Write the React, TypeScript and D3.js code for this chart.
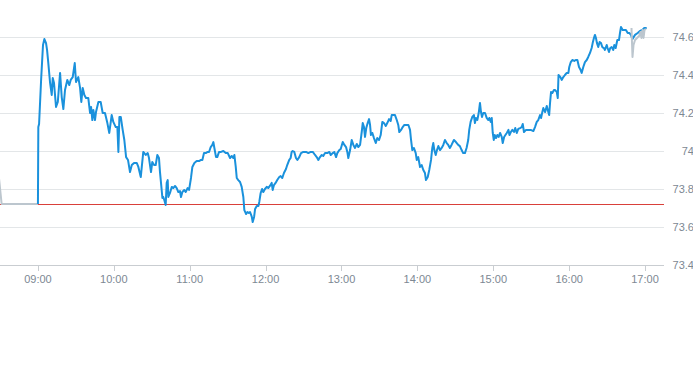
import React from "react";
import * as d3 from "d3";

// minutes after 09:00 and price, main session
const sessionMinutes = [
  0, 0.3, 0.9, 2.5, 4.0, 5.1, 6.4, 7.2, 8.2, 9.6, 10.9, 11.7, 12.7, 14.3, 15.7, 17.5, 18.8, 20.1, 21.4, 23.2,
  24.8, 25.9, 27.5, 29.1, 30.1, 31.9, 33.3, 34.3, 35.4, 36.7, 38.0, 39.8, 41.2, 42.0, 43.0, 43.8, 45.1, 45.9, 47.8, 49.6,
  51.2, 53.0, 54.9, 56.4, 58.3, 59.6, 61.5, 62.8, 63.6, 64.4, 65.5, 67.0, 68.3, 69.7, 71.2, 72.8, 74.2, 76.0, 78.1, 79.4,
  81.3, 82.1, 83.3, 85.2, 86.8, 87.8, 89.4, 90.4, 91.8, 93.1, 94.4, 95.7, 96.5, 97.3, 98.4, 99.1, 99.9, 101.0, 101.8, 102.6,
  103.1, 104.4, 105.8, 107.0, 108.4, 109.7, 111.0, 112.3, 113.1, 114.2, 115.7, 116.8, 118.4, 119.5, 121.0, 122.1, 123.7, 125.5, 127.4, 128.9,
  130.0, 131.3, 132.7, 134.2, 135.3, 136.6, 137.9, 138.7, 139.5, 140.8, 141.8, 143.2, 144.8, 146.6, 148.5, 150.1, 151.9, 153.2, 154.5, 155.3,
  156.4, 157.2, 158.4, 159.8, 161.1, 162.4, 163.2, 164.6, 165.6, 166.7, 167.7, 169.1, 169.8, 170.9, 171.7, 173.0, 174.3, 175.0, 176.1, 177.2,
  178.2, 179.5, 180.9, 182.1, 183.4, 184.8, 185.6, 186.6, 187.9, 189.2, 190.8, 191.9, 193.2, 194.5, 196.1, 197.1, 198.7, 199.8, 200.6, 201.4,
  202.7, 204.0, 205.1, 206.6, 208.0, 209.8, 212.0, 213.8, 215.7, 217.3, 219.1, 220.4, 221.7, 223.0, 224.4, 225.6, 227.0, 228.8, 230.4, 231.5,
  233.1, 234.3, 235.7, 236.7, 238.3, 239.4, 241.0, 242.3, 243.6, 244.6, 245.4, 246.8, 248.1, 249.4, 250.7, 252.1, 253.3, 254.7, 256.0, 256.8,
  257.8, 258.6, 259.6, 260.7, 261.8, 262.6, 263.3, 264.4, 265.7, 267.1, 268.3, 269.7, 271.0, 272.3, 273.6, 275.0, 276.2, 277.6, 278.9, 279.7,
  281.0, 282.3, 283.7, 284.9, 285.7, 287.1, 288.4, 289.7, 291.6, 292.9, 294.2, 295.0, 296.0, 297.3, 298.7, 299.5, 300.7, 302.1, 303.4, 304.7,
  306.0, 306.8, 308.2, 309.4, 310.8, 311.8, 312.6, 313.4, 314.5, 315.5, 316.6, 317.9, 319.2, 320.5, 321.8, 323.2, 324.4, 325.7, 327.0, 328.9,
  330.5, 332.3, 333.6, 335.0, 336.2, 337.6, 338.9, 340.2, 341.0, 342.1, 343.4, 344.7, 345.5, 346.3, 347.4, 348.5, 349.5, 350.3, 351.1, 352.1,
  353.5, 354.8, 356.1, 356.9, 358.0, 358.8, 359.6, 360.4, 361.2, 362.2, 363.2, 364.3, 365.4, 366.7, 367.5, 368.6, 369.6, 370.7, 372.0, 372.8,
  373.9, 375.1, 376.4, 377.4, 378.6, 379.8, 381.2, 382.5, 383.3, 384.3, 385.9, 387.7, 389.6, 391.7, 393.0, 394.4, 395.6, 397.0, 397.8, 398.8,
  399.6, 401.0, 402.3, 403.1, 404.2, 404.9, 405.7, 406.7, 408.0, 408.8, 410.2, 411.0, 411.6, 413.1, 414.1, 415.4, 416.7, 418.1, 419.4, 420.1,
  421.3, 422.5, 424.1, 425.2, 426.5, 427.8, 429.1, 429.9, 431.2, 432.5, 433.9, 435.1, 436.5, 437.8, 438.6, 439.6, 440.4, 441.2, 442.0, 443.0,
  444.1, 445.2, 446.2, 447.5, 448.3, 449.7, 450.4, 451.5, 452.5, 453.6, 454.9, 455.7, 456.8, 458.1, 459.4, 460.2, 461.0, 462.3, 463.6, 464.9,
  466.3, 467.6, 468.9, 470.0, 472.1, 474.2, 476.0, 477.9, 479.4, 481.3,
];
const sessionPrices = [
  73.721, 74.126, 74.142, 74.374, 74.558, 74.589, 74.568, 74.532, 74.463, 74.358, 74.295, 74.384, 74.358, 74.232, 74.258, 74.411, 74.284, 74.221, 74.321, 74.374,
  74.347, 74.374, 74.389, 74.463, 74.363, 74.389, 74.332, 74.258, 74.332, 74.295, 74.279, 74.279, 74.2, 74.232, 74.163, 74.216, 74.163, 74.205, 74.258, 74.258,
  74.2, 74.2, 74.147, 74.095, 74.189, 74.153, 74.126, 74.126, 73.995, 74.179, 74.179, 74.111, 74.058, 73.968, 73.953, 73.889, 73.926, 73.937, 73.937, 73.916,
  73.863, 73.916, 73.995, 73.979, 73.989, 73.963, 73.889, 73.942, 73.926, 73.926, 73.979, 73.963, 73.889, 73.832, 73.753, 73.758, 73.742, 73.716, 73.832, 73.847,
  73.758, 73.779, 73.811, 73.805, 73.816, 73.805, 73.784, 73.789, 73.758, 73.784, 73.795, 73.784, 73.805, 73.795, 73.858, 73.916, 73.937, 73.947, 73.947, 73.953,
  73.953, 73.989, 73.989, 73.995, 73.995, 74.021, 74.032, 74.047, 74.016, 73.968, 73.968, 73.995, 73.995, 74.0, 73.989, 73.989, 73.963, 73.974, 73.963, 73.979,
  73.916, 73.858, 73.847, 73.837, 73.811, 73.758, 73.689, 73.668, 73.679, 73.674, 73.679, 73.653, 73.626, 73.653, 73.695, 73.711, 73.711, 73.732, 73.779, 73.8,
  73.784, 73.8, 73.811, 73.805, 73.816, 73.832, 73.795, 73.821, 73.832, 73.847, 73.863, 73.868, 73.858, 73.884, 73.905, 73.926, 73.953, 73.963, 73.995, 74.0,
  73.995, 73.963, 73.953, 73.968, 73.989, 73.995, 73.995, 73.989, 73.995, 73.995, 73.979, 73.968, 73.953, 73.968, 73.979, 73.974, 73.989, 73.989, 73.995, 73.979,
  73.989, 73.995, 73.968, 73.989, 74.005, 74.011, 74.047, 74.032, 74.021, 73.995, 73.963, 74.005, 74.058, 74.032, 74.016, 74.037, 74.021, 74.032, 74.1, 74.147,
  74.126, 74.074, 74.121, 74.147, 74.168, 74.137, 74.084, 74.095, 74.068, 74.042, 74.068, 74.058, 74.084, 74.153, 74.147, 74.132, 74.147, 74.168, 74.158, 74.189,
  74.189, 74.189, 74.163, 74.137, 74.1, 74.111, 74.126, 74.137, 74.137, 74.137, 74.111, 74.058, 74.005, 74.016, 73.989, 73.953, 73.968, 73.916, 73.926, 73.9,
  73.884, 73.847, 73.863, 73.9, 73.953, 74.016, 74.042, 74.005, 73.979, 74.005, 74.026, 74.005, 74.016, 74.032, 74.058, 74.042, 74.032, 74.016, 74.032, 74.058,
  74.047, 74.032, 74.026, 74.005, 73.989, 73.989, 74.016, 74.058, 74.111, 74.153, 74.179, 74.189, 74.147, 74.174, 74.163, 74.2, 74.253, 74.205, 74.179, 74.2,
  74.2, 74.174, 74.163, 74.174, 74.153, 74.174, 74.095, 74.058, 74.084, 74.068, 74.084, 74.074, 74.095, 74.074, 74.042, 74.074, 74.084, 74.095, 74.111, 74.084,
  74.1, 74.111, 74.1, 74.121, 74.095, 74.116, 74.121, 74.126, 74.142, 74.1, 74.111, 74.111, 74.111, 74.105, 74.126, 74.153, 74.163, 74.189, 74.174, 74.205,
  74.226, 74.205, 74.237, 74.216, 74.189, 74.253, 74.311, 74.305, 74.321, 74.321, 74.311, 74.279, 74.4, 74.389, 74.374, 74.389, 74.4, 74.411, 74.411, 74.442,
  74.468, 74.479, 74.474, 74.479, 74.479, 74.442, 74.426, 74.411, 74.442, 74.468, 74.479, 74.495, 74.516, 74.542, 74.568, 74.595, 74.611, 74.595, 74.568, 74.547,
  74.574, 74.568, 74.547, 74.542, 74.532, 74.558, 74.542, 74.521, 74.542, 74.547, 74.532, 74.558, 74.542, 74.584, 74.584, 74.621, 74.653, 74.637, 74.637, 74.637,
  74.621, 74.621, 74.611, 74.589, 74.611, 74.621, 74.632, 74.637, 74.647, 74.647,
];

// pre-market and after-hours (grey)
const preMinutes = [-31, -28.7, 0];
const prePrices = [73.87, 73.721, 73.721];
const postMinutes = [469.3, 470.1, 470.9, 472.1, 473.7, 475.3, 476.4, 477.2, 478.0, 478.8, 479.6, 480.8];
const postPrices = [74.647, 74.495, 74.558, 74.584, 74.595, 74.605, 74.626, 74.595, 74.637, 74.595, 74.637, 74.642];

const previousClose = 73.72;

const yTicks = [73.4, 73.6, 73.8, 74, 74.2, 74.4, 74.6];
const yTickLabels = ["73.4", "73.6", "73.8", "74", "74.2", "74.4", "74.6"];
const xTicks = [0, 60, 120, 180, 240, 300, 360, 420, 480];
const xTickLabels = ["09:00", "10:00", "11:00", "12:00", "13:00", "14:00", "15:00", "16:00", "17:00"];

const W = 693;
const H = 365;
const plotRight = 664;
const plotBottom = 265;

export default function App() {
  const x = d3.scaleLinear().domain([-30, 495]).range([0, plotRight]);
  const y = d3.scaleLinear().domain([73.4, 74.6]).range([plotBottom, 37]);

  const mk = (ms: number[], ps: number[]) =>
    d3
      .line<number>()
      .x((_, i) => x(ms[i]))
      .y((p) => y(p))(ps) || "";

  const font = "'Liberation Sans', Arial, sans-serif";
  const labelColor = "#7d8893";

  return (
    <div style={{ position: "fixed", left: 0, top: 0, width: W, height: H, background: "#fff" }}>
      <svg width={W} height={H} style={{ display: "block" }}>
        <defs>
          <clipPath id="plot">
            <rect x={0} y={0} width={plotRight} height={plotBottom} />
          </clipPath>
        </defs>
        {yTicks.slice(1).map((t) => (
          <line key={t} x1={0} x2={plotRight} y1={Math.round(y(t)) + 0.5} y2={Math.round(y(t)) + 0.5} stroke="#e3e6e8" strokeWidth={1} />
        ))}
        <line x1={0} x2={plotRight} y1={plotBottom + 0.5} y2={plotBottom + 0.5} stroke="#c9cdd1" strokeWidth={1} />
        {xTicks.map((t) => (
          <line key={t} x1={Math.round(x(t)) + 0.5} x2={Math.round(x(t)) + 0.5} y1={plotBottom} y2={plotBottom + 6} stroke="#c9cdd1" strokeWidth={1} />
        ))}
        <line
          x1={0}
          x2={plotRight}
          y1={Math.round(y(previousClose)) + 0.5}
          y2={Math.round(y(previousClose)) + 0.5}
          stroke="#d9403a"
          strokeWidth={1}
        />
        <g clipPath="url(#plot)">
          <path d={mk(preMinutes, prePrices)} fill="none" stroke="#bcc6ce" strokeWidth={2} strokeLinejoin="round" />
          <path d={mk(sessionMinutes, sessionPrices)} fill="none" stroke="#1a91dc" strokeWidth={2} strokeLinejoin="round" />
          <path d={mk(postMinutes, postPrices)} fill="none" stroke="#bcc6ce" strokeWidth={2} strokeLinejoin="round" />
        </g>
        {yTicks.map((t, i) => (
          <text key={t} x={694} y={y(t)} dy="0.35em" textAnchor="end" fontSize={11} fontFamily={font} fill={labelColor}>
            {yTickLabels[i]}
          </text>
        ))}
        {xTicks.map((t, i) => (
          <text key={t} x={x(t)} y={283} textAnchor="middle" fontSize={11} fontFamily={font} fill={labelColor}>
            {xTickLabels[i]}
          </text>
        ))}
      </svg>
    </div>
  );
}
